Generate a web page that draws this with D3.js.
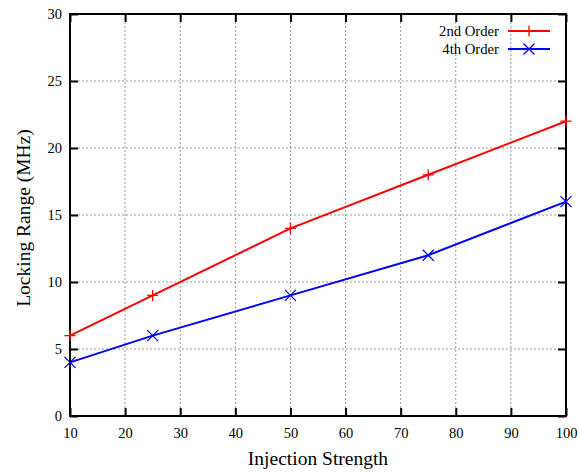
<!DOCTYPE html>
<html>
<head>
<meta charset="utf-8">
<script src="https://cdn.jsdelivr.net/npm/d3@7"></script>
<style>
  html, body { margin: 0; padding: 0; background: #fff; }
  text { font-family: "Liberation Serif", "Times New Roman", serif; fill: #000; }
</style>
</head>
<body>
<svg id="chart" width="579" height="473"></svg>
<script>
// Injection strength vs. locking range for two injection orders
const injection = [10, 25, 50, 75, 100];
const order2 = [6, 9, 14, 18, 22];
const order4 = [4, 6, 9, 12, 16];
const xTicks = [10, 20, 30, 40, 50, 60, 70, 80, 90, 100];
const yTicks = [0, 5, 10, 15, 20, 25, 30];
const seriesNames = ["2nd Order", "4th Order"];
const seriesColors = ["#ff0000", "#0000ff"];

const svg = d3.select("#chart");
const margin = { left: 70, right: 13, top: 14, bottom: 57 };
const W = 579, H = 473;

const x = d3.scaleLinear().domain([10, 100]).range([margin.left, W - margin.right]);
const y = d3.scaleLinear().domain([0, 30]).range([H - margin.bottom, margin.top]);

// grid
const grid = svg.append("g").attr("stroke", "#999").attr("stroke-width", 1)
  .attr("stroke-dasharray", "2,2");
xTicks.slice(1, -1).forEach(t => {
  grid.append("line").attr("x1", x(t)).attr("x2", x(t)).attr("y1", y(0)).attr("y2", y(30));
});
yTicks.slice(1, -1).forEach(t => {
  grid.append("line").attr("x1", x(10)).attr("x2", x(100)).attr("y1", y(t)).attr("y2", y(t));
});

// axes with inward ticks on all four sides
const tickLen = 8;
const axB = svg.append("g").attr("transform", `translate(0,${y(0)})`)
  .call(d3.axisBottom(x).tickValues(xTicks).tickSize(-tickLen).tickPadding(12));
const axT = svg.append("g").attr("transform", `translate(0,${y(30)})`)
  .call(d3.axisTop(x).tickValues(xTicks).tickSize(-tickLen).tickFormat(""));
const axL = svg.append("g").attr("transform", `translate(${x(10)},0)`)
  .call(d3.axisLeft(y).tickValues(yTicks).tickSize(-tickLen).tickPadding(8));
const axR = svg.append("g").attr("transform", `translate(${x(100)},0)`)
  .call(d3.axisRight(y).tickValues(yTicks).tickSize(-tickLen).tickFormat(""));
[axB, axT, axL, axR].forEach(a => {
  a.select(".domain").remove();
  a.selectAll(".tick line").attr("stroke", "#000").attr("stroke-width", 2);
  a.selectAll("text").style("font-family", "Liberation Serif").style("font-size", "14.5px").attr("fill", "#000");
});

// frame
svg.append("rect").attr("x", x(10)).attr("y", y(30))
  .attr("width", x(100) - x(10)).attr("height", y(0) - y(30))
  .attr("fill", "none").attr("stroke", "#000").attr("stroke-width", 2);

// series
const plus = (g, cx, cy, s, c) => {
  g.append("path").attr("d", `M${cx - s},${cy}H${cx + s}M${cx},${cy - s}V${cy + s}`)
    .attr("stroke", c).attr("stroke-width", 1.3).attr("fill", "none");
};
const cross = (g, cx, cy, s, c) => {
  g.append("path").attr("d", `M${cx - s},${cy - s}L${cx + s},${cy + s}M${cx - s},${cy + s}L${cx + s},${cy - s}`)
    .attr("stroke", c).attr("stroke-width", 1.3).attr("fill", "none");
};
const markers = [plus, cross];
const line = d3.line().x(d => x(d[0])).y(d => y(d[1]));

[order2, order4].forEach((vals, i) => {
  const pts = injection.map((v, j) => [v, vals[j]]);
  const g = svg.append("g");
  g.append("path").attr("d", line(pts)).attr("fill", "none")
    .attr("stroke", seriesColors[i]).attr("stroke-width", 2);
  pts.forEach(p => markers[i](g, x(p[0]), y(p[1]), 5.5, seriesColors[i]));
});

// legend
seriesNames.forEach((name, i) => {
  const ly = 31 + i * 18;
  svg.append("text").attr("x", 499).attr("y", ly).attr("dy", "0.35em")
    .attr("text-anchor", "end").style("font-size", "14.7px").text(name);
  svg.append("line").attr("x1", 508).attr("x2", 550).attr("y1", ly).attr("y2", ly)
    .attr("stroke", seriesColors[i]).attr("stroke-width", 2);
  markers[i](svg, 529, ly, 5.5, seriesColors[i]);
});

// axis titles
svg.append("text").attr("x", (x(10) + x(100)) / 2).attr("y", 465)
  .attr("text-anchor", "middle").style("font-size", "19.5px").text("Injection Strength");
svg.append("text").attr("transform", `translate(23,${(y(0) + y(30)) / 2 + 3}) rotate(-90)`)
  .attr("dy", "0.35em")
  .attr("text-anchor", "middle").style("font-size", "19.5px").text("Locking Range (MHz)");
</script>
</body>
</html>
